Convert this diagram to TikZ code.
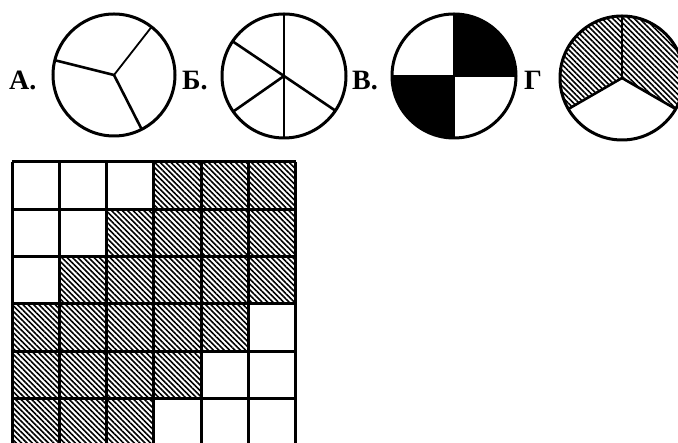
\documentclass[tikz,border=0pt]{standalone}
\usepackage{fontspec}
\setmainfont{Liberation Serif}
\usetikzlibrary{patterns.meta}

\newcommand{\cellsize}{47.33}

\begin{document}
\begin{tikzpicture}[x=1pt,y=1pt,
    every node/.style={font=\fontsize{28}{30}\selectfont\bfseries,inner sep=0pt,anchor=base west},
    disc/.style={line width=3pt},
    cut/.style={line width=2.6pt},
    hatch/.style={pattern={Lines[angle=-45,distance=3.8pt,line width=1.6pt]}},
    cell/.style={draw,line width=3pt}
]
\useasboundingbox (0,0) rectangle (678,443);
\clip (0,0) rectangle (678,443);

% labels
\node (labA) at (9,353) {А.};
\node (labB) at (182,353) {Б.};
\node (labV) at (352,353) {В.};
\node (labG) at (524,353) {Г};

% circle A: three parts
\coordinate (cA) at (114,368);
\draw[cut] (cA) -- ++(166:61);
\draw[cut,line width=1.8pt] (cA) -- ++(52:61);
\draw[cut] (cA) -- ++(-63:61);
\draw[disc] (cA) circle (61);

% circle B: five parts
\coordinate (cB) at (284,367);
\draw[cut] (cB) ++(90:62) -- ++(270:124);
\draw[cut] (cB) ++(146:62) -- ++(-34:124);
\draw[cut] (cB) -- ++(215:62);
\draw[disc] (cB) circle (62);

% circle V: quarters
\coordinate (cV) at (454,367);
\fill (cV) -- ++(0:62) arc (0:90:62) -- cycle;
\fill (cV) -- ++(180:62) arc (180:270:62) -- cycle;
\draw[cut] (cV) ++(90:62) -- ++(270:124);
\draw[cut] (cV) ++(180:62) -- ++(0:124);
\draw[disc] (cV) circle (62);

% circle G: thirds, two hatched
\coordinate (cG) at (622,365);
\fill[hatch] (cG) -- ++(-30:62) arc (-30:210:62) -- cycle;
\draw[cut] (cG) -- ++(90:62);
\draw[cut] (cG) -- ++(210:62);
\draw[cut] (cG) -- ++(-30:62);
\draw[disc] (cG) circle (62);

% grid 6x6
\begin{scope}[shift={(12,281)}]
\foreach \r/\a/\b in {1/4/6,2/3/6,3/2/6,4/1/5,5/1/4,6/1/3}
  \foreach \c in {\a,...,\b}
    \fill[hatch] ({(\c-1)*\cellsize},{-\r*\cellsize}) rectangle ++(\cellsize,\cellsize);
\foreach \i in {0,...,6} {
  \draw[cell] ({\i*\cellsize},0) -- ({\i*\cellsize},{-6*\cellsize});
  \draw[cell] (0,{-\i*\cellsize}) -- ({6*\cellsize},{-\i*\cellsize});
}
\end{scope}
\end{tikzpicture}
\end{document}
